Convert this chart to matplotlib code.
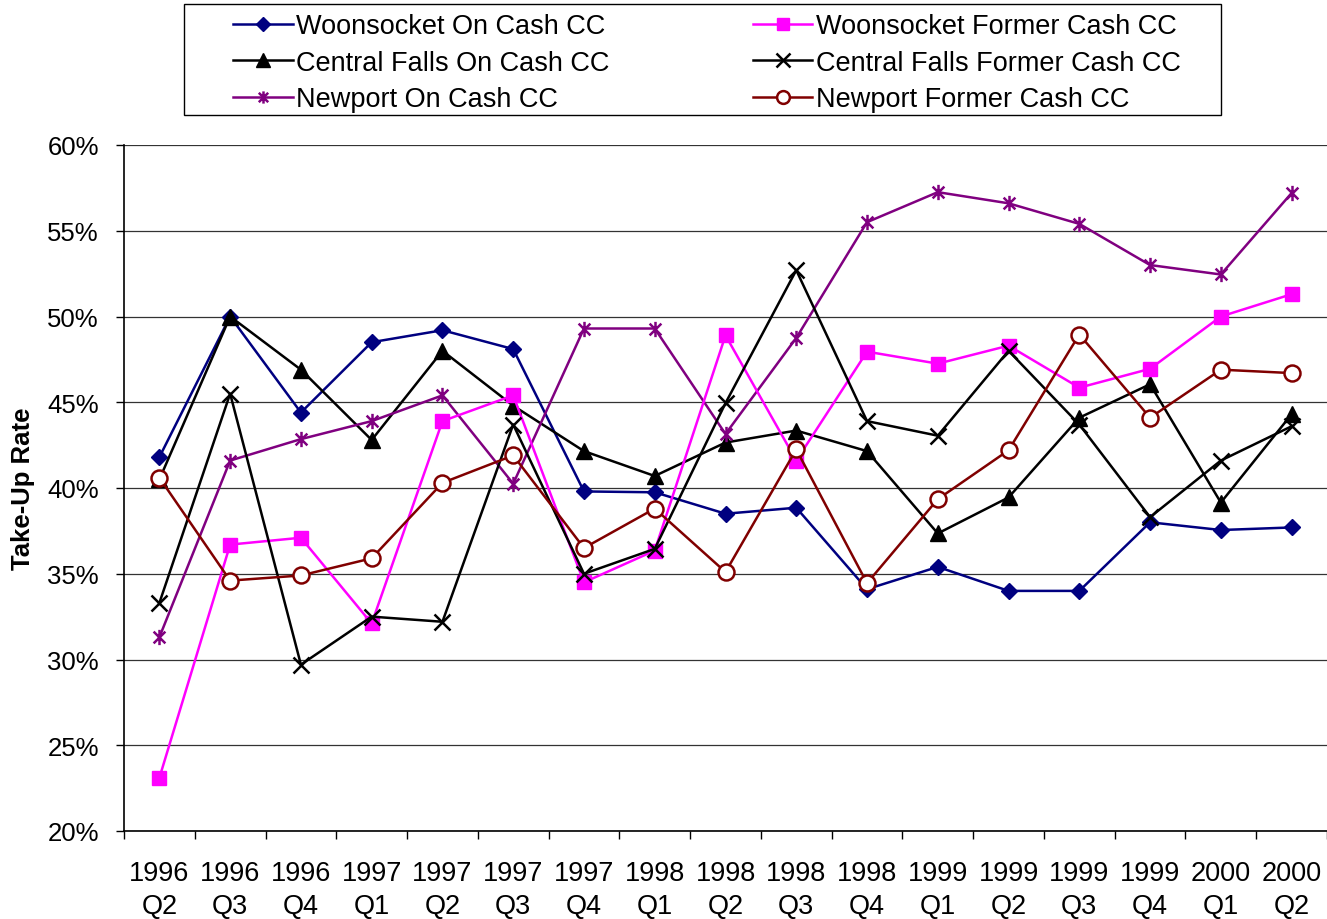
import matplotlib
matplotlib.use("Agg")
import matplotlib.pyplot as plt
from matplotlib.path import Path
from matplotlib.patches import Rectangle
import numpy as np

plt.rcParams['font.family'] = ['Liberation Sans', 'DejaVu Sans']

categories = ["1996\nQ2", "1996\nQ3", "1996\nQ4", "1997\nQ1", "1997\nQ2", "1997\nQ3",
              "1997\nQ4", "1998\nQ1", "1998\nQ2", "1998\nQ3", "1998\nQ4", "1999\nQ1",
              "1999\nQ2", "1999\nQ3", "1999\nQ4", "2000\nQ1", "2000\nQ2"]

woonsocket_on = [41.8, 50.0, 44.4, 48.5, 49.2, 48.1, 39.8, 39.75, 38.5, 38.85, 34.1, 35.4,
                 34.0, 34.0, 38.0, 37.55, 37.7]
woonsocket_former = [23.1, 36.7, 37.1, 32.1, 43.9, 45.4, 34.5, 36.35, 48.9, 41.6, 47.95, 47.25,
                     48.3, 45.85, 46.95, 50.0, 51.3]
central_falls_on = [40.5, 50.0, 46.9, 42.8, 48.0, 44.8, 42.15, 40.7, 42.65, 43.35, 42.15, 37.35,
                    39.45, 44.1, 46.05, 39.15, 44.3]
central_falls_former = [33.3, 45.5, 29.7, 32.5, 32.2, 43.7, 35.0, 36.45, 44.95, 52.7, 43.9, 43.05,
                        48.0, 43.7, 38.3, 41.6, 43.6]
newport_on = [31.3, 41.6, 42.85, 43.9, 45.4, 40.25, 49.3, 49.3, 43.15, 48.75, 55.5, 57.25,
              56.6, 55.4, 53.0, 52.45, 57.2]
newport_former = [40.6, 34.6, 34.9, 35.9, 40.3, 41.9, 36.5, 38.8, 35.1, 42.25, 34.45, 39.35,
                  42.2, 48.95, 44.1, 46.9, 46.7]

labels = ["Woonsocket On Cash CC", "Central Falls On Cash CC", "Newport On Cash CC",
          "Woonsocket Former Cash CC", "Central Falls Former Cash CC", "Newport Former Cash CC"]

star = Path([(-1, -1), (1, 1), (-1, 1), (1, -1), (0, -1.3), (0, 1.3)],
            [Path.MOVETO, Path.LINETO, Path.MOVETO, Path.LINETO, Path.MOVETO, Path.LINETO])

W, H = 1327, 920
fig = plt.figure(figsize=(W / 100, H / 100), dpi=100)
ax = fig.add_axes([124/W, 88/H, 1203/W, 686/H])

x = np.arange(len(categories))
lw = 1.8
handles = []
h = ax.plot(x, woonsocket_on, color='#000080', lw=lw, marker='D', ms=8.5,
            mfc='#000080', mec='#000080', zorder=3)[0]; handles.append(h)
h = ax.plot(x, central_falls_on, color='black', lw=lw, marker='^', ms=12,
            mfc='black', mec='black', zorder=3)[0]; handles.append(h)
h = ax.plot(x, newport_on, color='#800080', lw=lw, marker=star, ms=11, mew=1.8,
            mec='#800080', zorder=3)[0]; handles.append(h)
h = ax.plot(x, woonsocket_former, color='#FF00FF', lw=lw, marker='s', ms=10.5,
            mfc='#FF00FF', mec='#FF00FF', zorder=3)[0]; handles.append(h)
h = ax.plot(x, central_falls_former, color='black', lw=lw, marker='x', ms=12, mew=1.8,
            mec='black', zorder=3)[0]; handles.append(h)
h = ax.plot(x, newport_former, color='#800000', lw=lw, marker='o', ms=11.5, mew=1.8,
            mfc='white', mec='#800000', zorder=4)[0]; handles.append(h)

ax.set_xlim(-0.5, len(categories) - 0.5)
ax.set_ylim(20, 60)
ax.set_yticks(np.arange(20, 61, 5))
ax.set_yticklabels([f"{v}%" for v in range(20, 61, 5)], fontsize=18.5)
ax.set_xticks(x)
ax.set_xticklabels(categories, fontsize=19.5, linespacing=1.33)
ax.set_xticks(np.arange(-0.5, len(categories), 1), minor=True)
ax.tick_params(axis='x', which='major', length=0, pad=21)
ax.tick_params(axis='x', which='minor', length=6, width=1, direction='out')
ax.tick_params(axis='y', which='major', length=6, width=1, direction='out', pad=12)

ax.yaxis.grid(True, color='#333333', lw=0.9)
ax.set_axisbelow(True)
for s in ['top', 'right']:
    ax.spines[s].set_visible(False)
for s in ['left', 'bottom']:
    ax.spines[s].set_linewidth(1.2)

ax.set_ylabel("Take-Up Rate", fontsize=18.5, fontweight='bold', labelpad=9)

# legend frame
fig.patches.append(Rectangle((184/W, 1 - 116/H), 1037/W, 111/H, transform=fig.transFigure,
                             fill=False, edgecolor='black', lw=1.0, zorder=5))
leg = fig.legend(handles, labels, ncol=2, loc='upper left',
                 bbox_to_anchor=(233/W, 1 - 14/H),
                 borderaxespad=0, fontsize=19.5, frameon=False,
                 handlelength=2.2, handletextpad=0.12, markerscale=0.8,
                 labelspacing=0.39, borderpad=0.0, columnspacing=5.3)

fig.savefig("out.png", dpi=100)
